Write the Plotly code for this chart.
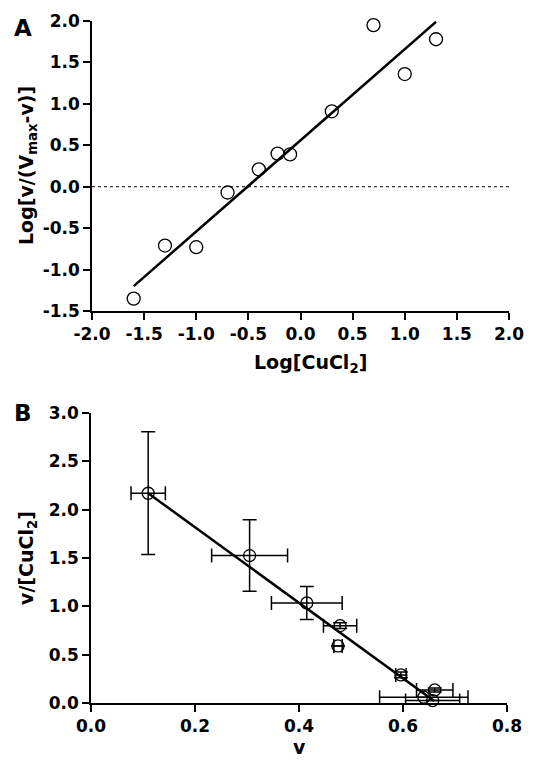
import plotly.graph_objects as go

# ---------------- Panel A data (Hill plot) ----------------
a_logcu = [-1.6, -1.3, -1.0, -0.7, -0.4, -0.22, -0.1, 0.3, 0.7, 1.0, 1.3]
a_hill = [-1.35, -0.71, -0.73, -0.07, 0.21, 0.40, 0.39, 0.91, 1.95, 1.36, 1.78]
a_fit_x = [-1.6, 1.3]
a_fit_y = [-1.20, 1.99]
a_zero_x = [-2.0, 2.0]
a_zero_y = [0.0, 0.0]

# ---------------- Panel B data (Scatchard plot) ----------------
b_v = [0.11, 0.305, 0.415, 0.479, 0.475, 0.596, 0.661, 0.640, 0.657]
b_ratio = [2.17, 1.525, 1.035, 0.80, 0.59, 0.29, 0.135, 0.06, 0.025]
b_v_err = [0.033, 0.073, 0.068, 0.032, 0.008, 0.010, 0.035, 0.085, 0.052]
b_ratio_err = [0.635, 0.37, 0.17, 0.03, 0.0, 0.03, 0.02, 0.0, 0.0]
b_fit_x = [0.11, 0.66]
b_fit_y = [2.17, 0.02]

a_xticks = [-2.0, -1.5, -1.0, -0.5, 0.0, 0.5, 1.0, 1.5, 2.0]
a_yticks = [-1.5, -1.0, -0.5, 0.0, 0.5, 1.0, 1.5, 2.0]
b_xticks = [0.0, 0.2, 0.4, 0.6, 0.8]
b_yticks = [0.0, 0.5, 1.0, 1.5, 2.0, 2.5, 3.0]


def labels(vals):
    return ["<b>%.1f</b>" % v for v in vals]


FONT = "DejaVu Sans"
W, H = 544, 760

fig = go.Figure()

fig.add_trace(go.Scatter(x=a_zero_x, y=a_zero_y, mode="lines",
                         line=dict(color="black", width=1, dash="dot"),
                         xaxis="x", yaxis="y", showlegend=False, hoverinfo="skip"))
fig.add_trace(go.Scatter(x=a_fit_x, y=a_fit_y, mode="lines",
                         line=dict(color="black", width=2.5),
                         xaxis="x", yaxis="y", showlegend=False))
fig.add_trace(go.Scatter(x=a_logcu, y=a_hill, mode="markers",
                         marker=dict(symbol="circle-open", size=13, color="black",
                                     line=dict(width=1.3, color="black")),
                         xaxis="x", yaxis="y", showlegend=False, cliponaxis=False))

fig.add_trace(go.Scatter(x=b_fit_x, y=b_fit_y, mode="lines",
                         line=dict(color="black", width=2.5),
                         xaxis="x2", yaxis="y2", showlegend=False))
fig.add_trace(go.Scatter(x=b_v, y=b_ratio, mode="markers",
                         marker=dict(symbol="circle-open", size=12, color="black",
                                     line=dict(width=1.3, color="black")),
                         error_x=dict(type="data", array=b_v_err, color="black",
                                      thickness=1.5, width=7),
                         error_y=dict(type="data", array=b_ratio_err, color="black",
                                      thickness=1.5, width=7),
                         xaxis="x2", yaxis="y2", showlegend=False, cliponaxis=False))

axis_common = dict(showline=True, linecolor="black", linewidth=1.5,
                   ticks="outside", ticklen=7, tickwidth=1.5, tickcolor="black",
                   showgrid=False, zeroline=False, mirror=False, automargin=False,
                   tickfont=dict(family=FONT, size=17, color="black"))

fig.update_layout(
    width=W, height=H,
    margin=dict(l=0, r=0, t=0, b=0, pad=0, autoexpand=False),
    plot_bgcolor="white", paper_bgcolor="white",
    xaxis=dict(domain=[92/W, 509/W], range=[-2, 2], tickvals=a_xticks,
               ticktext=labels(a_xticks), anchor="y", **axis_common),
    yaxis=dict(domain=[1-311/H, 1-21/H], range=[-1.5, 2], tickvals=a_yticks,
               ticktext=labels(a_yticks), anchor="x", **axis_common),
    xaxis2=dict(domain=[91/W, 507/W], range=[0, 0.8], tickvals=b_xticks,
                ticktext=labels(b_xticks), anchor="y2", **axis_common),
    yaxis2=dict(domain=[1-703/H, 1-413/H], range=[0, 3], tickvals=b_yticks,
                ticktext=labels(b_yticks), anchor="x2", **axis_common),
)

title_font = dict(family=FONT, size=19, color="black")
big_font = dict(family=FONT, size=23, color="black")
ann = [
    dict(text="<b>A</b>", x=23/W, y=1-28/H, font=big_font),
    dict(text="<b>B</b>", x=23/W, y=1-413/H, font=big_font),
    dict(text="<b>Log[CuCl<sub>2</sub>]</b>", x=310/W, y=1-363/H, font=title_font),
    dict(text="<b>Log[v/(V<sub>max</sub>-v)]</b>", x=27/W, y=1-166/H, textangle=-90, font=title_font),
    dict(text="<b>v/[CuCl<sub>2</sub>]</b>", x=27/W, y=1-558/H, textangle=-90, font=title_font),
    dict(text="<b>v</b>", x=299/W, y=1-747/H, font=title_font),
]
for a in ann:
    fig.add_annotation(xref="paper", yref="paper", showarrow=False,
                       xanchor="center", yanchor="middle", **a)

fig.write_html("out.html", config={"displayModeBar": False},
               post_script="document.body.style.margin='0px';")
